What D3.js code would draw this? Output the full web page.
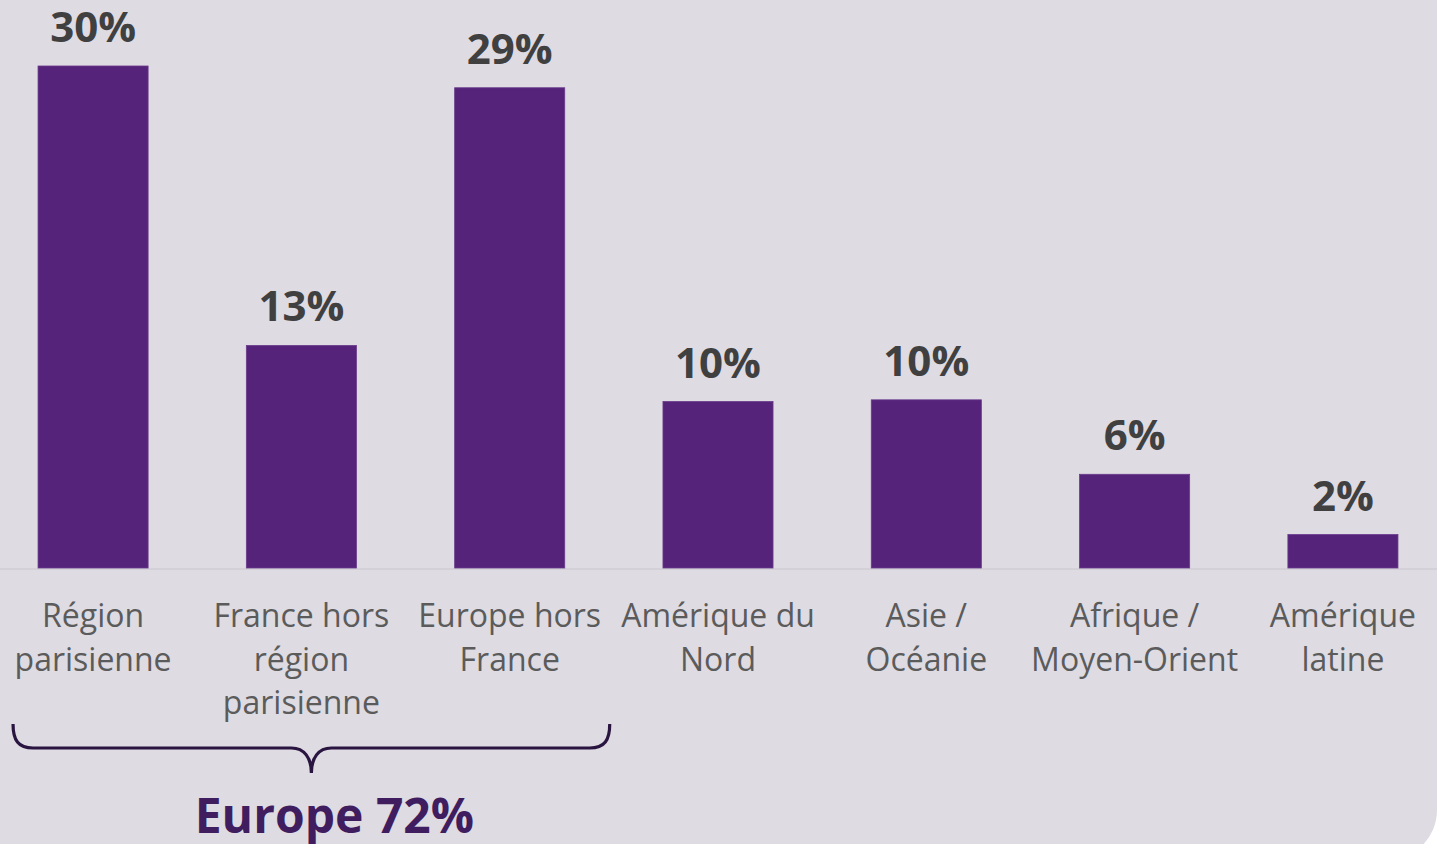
<!DOCTYPE html>
<html>
<head>
<meta charset="utf-8">
<script src="https://cdn.jsdelivr.net/npm/d3@7"></script>
<style>
  html, body { margin: 0; padding: 0; background: #ffffff; }
  svg { display: block; }
  svg text { font-family: "Open Sans", "Noto Sans", sans-serif; }
</style>
</head>
<body>
<div id="chart"></div>
<script>
// ── Data ────────────────────────────────────────────────────────────────
const categories = [
  "Région parisienne", "France hors région parisienne", "Europe hors France",
  "Amérique du Nord", "Asie / Océanie", "Afrique / Moyen-Orient", "Amérique latine"
];
const tickLines = [
  ["Région", "parisienne"],
  ["France hors", "région", "parisienne"],
  ["Europe hors", "France"],
  ["Amérique du", "Nord"],
  ["Asie /", "Océanie"],
  ["Afrique /", "Moyen-Orient"],
  ["Amérique", "latine"]
];
const values = [30.0, 13.3, 28.7, 9.95, 10.05, 5.6, 2.0];
const valueLabels = ["30%", "13%", "29%", "10%", "10%", "6%", "2%"];
const groupCats = ["Région parisienne", "France hors région parisienne", "Europe hors France"];
const groupLabel = "Europe 72%";

// ── Palette ─────────────────────────────────────────────────────────────
const BG = "#dedbe3";
const BAR = "#55247a";
const VAL_C = "#404040";
const CAT_C = "#5b5b5b";
const BRACE_C = "#2a1540";
const GROUP_C = "#3f1d5e";

const W = 1437, H = 844;
const baseY = 568;

const svg = d3.select("#chart").append("svg")
  .attr("width", W).attr("height", H);

// background with rounded bottom-right corner
const cornerR = 50, bgBottom = 860;
svg.append("path")
  .attr("fill", BG)
  .attr("d", `M0,0 H${W} V${bgBottom - cornerR} A${cornerR},${cornerR} 0 0 1 ${W - cornerR},${bgBottom} H0 Z`);

const x = d3.scaleBand()
  .domain(categories)
  .range([-1, W])
  .paddingInner(0.4716)
  .paddingOuter(0.1874);

const y = d3.scaleLinear()
  .domain([0, 30])
  .range([baseY, 66]);

const data = categories.map((c, i) => ({ cat: c, value: values[i], label: valueLabels[i], lines: tickLines[i] }));

// baseline
svg.append("line")
  .attr("x1", 0).attr("x2", W)
  .attr("y1", baseY + 1).attr("y2", baseY + 1)
  .attr("stroke", "#d3d0d8").attr("stroke-width", 2);

// bars
svg.selectAll(".bar").data(data).enter().append("rect")
  .attr("x", d => x(d.cat))
  .attr("y", d => y(d.value))
  .attr("width", x.bandwidth())
  .attr("height", d => baseY - y(d.value))
  .attr("fill", BAR)
  .attr("stroke", "#6a3a8c").attr("stroke-width", 0.8);

// value labels
svg.selectAll(".val").data(data).enter().append("text")
  .attr("x", d => x(d.cat) + x.bandwidth() / 2)
  .attr("y", d => y(d.value) - 24)
  .attr("text-anchor", "middle")
  .attr("fill", VAL_C)
  .style("font-size", "42px").style("font-weight", "700")
  .text(d => d.label);

// category axis
const axis = svg.append("g")
  .attr("transform", `translate(0,${baseY})`)
  .call(d3.axisBottom(x).tickSize(0).tickFormat(""));
axis.attr("font-family", null).attr("font-size", null);
axis.select(".domain").remove();
axis.selectAll(".tick text").remove();
axis.selectAll(".tick").data(data).append("text")
  .attr("text-anchor", "middle")
  .attr("fill", CAT_C)
  .style("font-size", "32px").style("font-weight", "400")
  .selectAll("tspan").data(d => d.lines).enter().append("tspan")
  .attr("x", 0)
  .attr("y", (d, i) => 59 + i * 43.5)
  .text(d => d);

// brace under the Europe group
const bx0 = x(groupCats[0]) - 25;
const bx1 = x(groupCats[groupCats.length - 1]) + x.bandwidth() + 45;
const mid = (bx0 + bx1) / 2;
const braceTop = 724, lineY = 748, tipY = 773;
svg.append("path")
  .attr("fill", "none").attr("stroke", BRACE_C).attr("stroke-width", 3.2)
  .attr("d", `M${bx0},${braceTop} C${bx0},${lineY - 8} ${bx0 + 5},${lineY} ${bx0 + 20},${lineY}
    L${mid - 20},${lineY} C${mid - 7},${lineY} ${mid},${lineY + 10} ${mid},${tipY}
    C${mid},${lineY + 10} ${mid + 7},${lineY} ${mid + 20},${lineY}
    L${bx1 - 20},${lineY} C${bx1 - 5},${lineY} ${bx1},${lineY - 8} ${bx1},${braceTop}`);

svg.append("text")
  .attr("x", mid + 23).attr("y", 833)
  .attr("text-anchor", "middle")
  .attr("fill", GROUP_C)
  .style("font-size", "48px").style("font-weight", "700")
  .text(groupLabel);
</script>
</body>
</html>
